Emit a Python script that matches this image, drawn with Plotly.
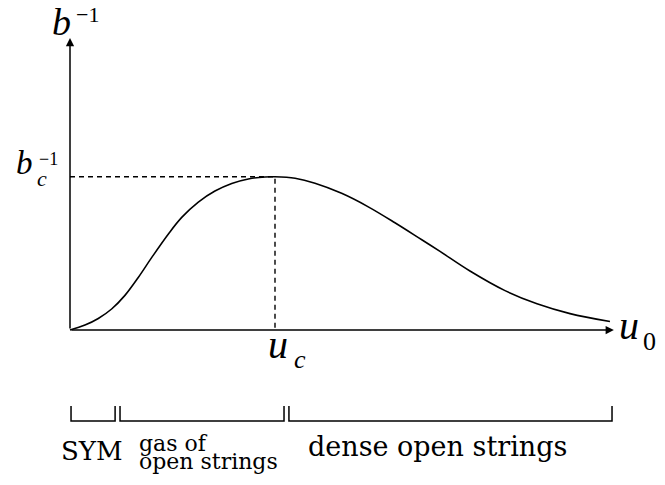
import plotly.graph_objects as go

# Curve data (u0 in units of u_c, b^-1 in units of b_c^-1)
u0 = [0.0, 0.073, 0.138, 0.203, 0.268, 0.333, 0.399, 0.480, 0.545, 0.626, 0.707, 0.789, 0.870, 0.951, 1.0,
      1.098, 1.195, 1.325, 1.455, 1.585, 1.716, 1.805, 1.951, 2.122, 2.278, 2.439, 2.634]
binv = [0.0, 0.032, 0.075, 0.137, 0.226, 0.343, 0.474, 0.627, 0.735, 0.835, 0.907, 0.957, 0.986, 0.999, 1.0,
        0.990, 0.958, 0.892, 0.804, 0.700, 0.589, 0.513, 0.385, 0.257, 0.171, 0.107, 0.055]

u_c = 1.0
b_c_inv = 1.0
x_axis_end = 2.653
y_axis_end = 1.906

# regions along u0 axis (brackets)
region_starts = [0.005, 0.244, 1.068]
region_ends = [0.220, 1.044, 2.644]
bracket_top, bracket_bot = -0.496, -0.594

SERIF = "Liberation Serif, Times New Roman, serif"
ROMAN = "DejaVu Serif, serif"

# page is offset by the 8px body margin; convert page pixels to data units for labels
def U(px):
    return (px - 70) / 205.0

def B(py):
    return (330 - py) / 153.2

fig = go.Figure()

fig.add_trace(go.Scatter(x=u0, y=binv, mode="lines",
                         line=dict(color="black", width=1.6, shape="spline", smoothing=1.0),
                         hoverinfo="skip", showlegend=False))
# dashed guides
fig.add_trace(go.Scatter(x=[0, u_c, u_c], y=[b_c_inv, b_c_inv, 0], mode="lines",
                         line=dict(color="black", width=1.4, dash="5px,4px"), hoverinfo="skip", showlegend=False))

# axes with arrows
fig.add_annotation(x=x_axis_end, y=0, ax=0, ay=0, xref="x", yref="y", axref="x", ayref="y",
                   text="", showarrow=True, arrowhead=2, arrowsize=1.1, arrowwidth=1.5, arrowcolor="black", standoff=0)
fig.add_annotation(x=0, y=y_axis_end, ax=0, ay=0, xref="x", yref="y", axref="x", ayref="y",
                   text="", showarrow=True, arrowhead=2, arrowsize=1.1, arrowwidth=1.5, arrowcolor="black", standoff=0)

# brackets
for s, e in zip(region_starts, region_ends):
    fig.add_shape(type="path", xref="x", yref="y",
                  path=f"M {s},{bracket_top} L {s},{bracket_bot} L {e},{bracket_bot} L {e},{bracket_top}",
                  line=dict(color="black", width=1.5))

def label(px, py, text, size, family, xanchor="center"):
    fig.add_annotation(x=U(px), y=B(py), xref="x", yref="y", text=text, showarrow=False,
                       font=dict(family=family, size=size, color="black"),
                       xanchor=xanchor, yanchor="middle")

# region labels
label(92, 451, "SYM", 26, ROMAN)
label(137, 443, "gas of", 22, ROMAN, xanchor="left")
label(137, 461, "open strings", 22, ROMAN, xanchor="left")
label(437, 446, "dense open strings", 27, ROMAN)

# axis labels
label(61, 22, "<i>b</i>", 38, SERIF)
label(87, 14, "−1", 22, SERIF)
label(24, 163, "<i>b</i>", 33, SERIF)
label(48, 159, "−1", 18, SERIF)
label(42, 178, "<i>c</i>", 22, SERIF)
label(278, 344, "<i>u</i>", 40, SERIF)
label(300, 359, "<i>c</i>", 26, SERIF)
label(629, 325, "<i>u</i>", 40, SERIF)
label(649, 341, "0", 26, SERIF)

fig.update_layout(
    width=665, height=485,
    margin=dict(l=0, r=0, t=0, b=0),
    paper_bgcolor="white", plot_bgcolor="white",
    xaxis=dict(range=[U(8), U(673)], visible=False, fixedrange=True),
    yaxis=dict(range=[B(493), B(8)], visible=False, fixedrange=True),
    showlegend=False,
)

fig.write_html("out.html")
